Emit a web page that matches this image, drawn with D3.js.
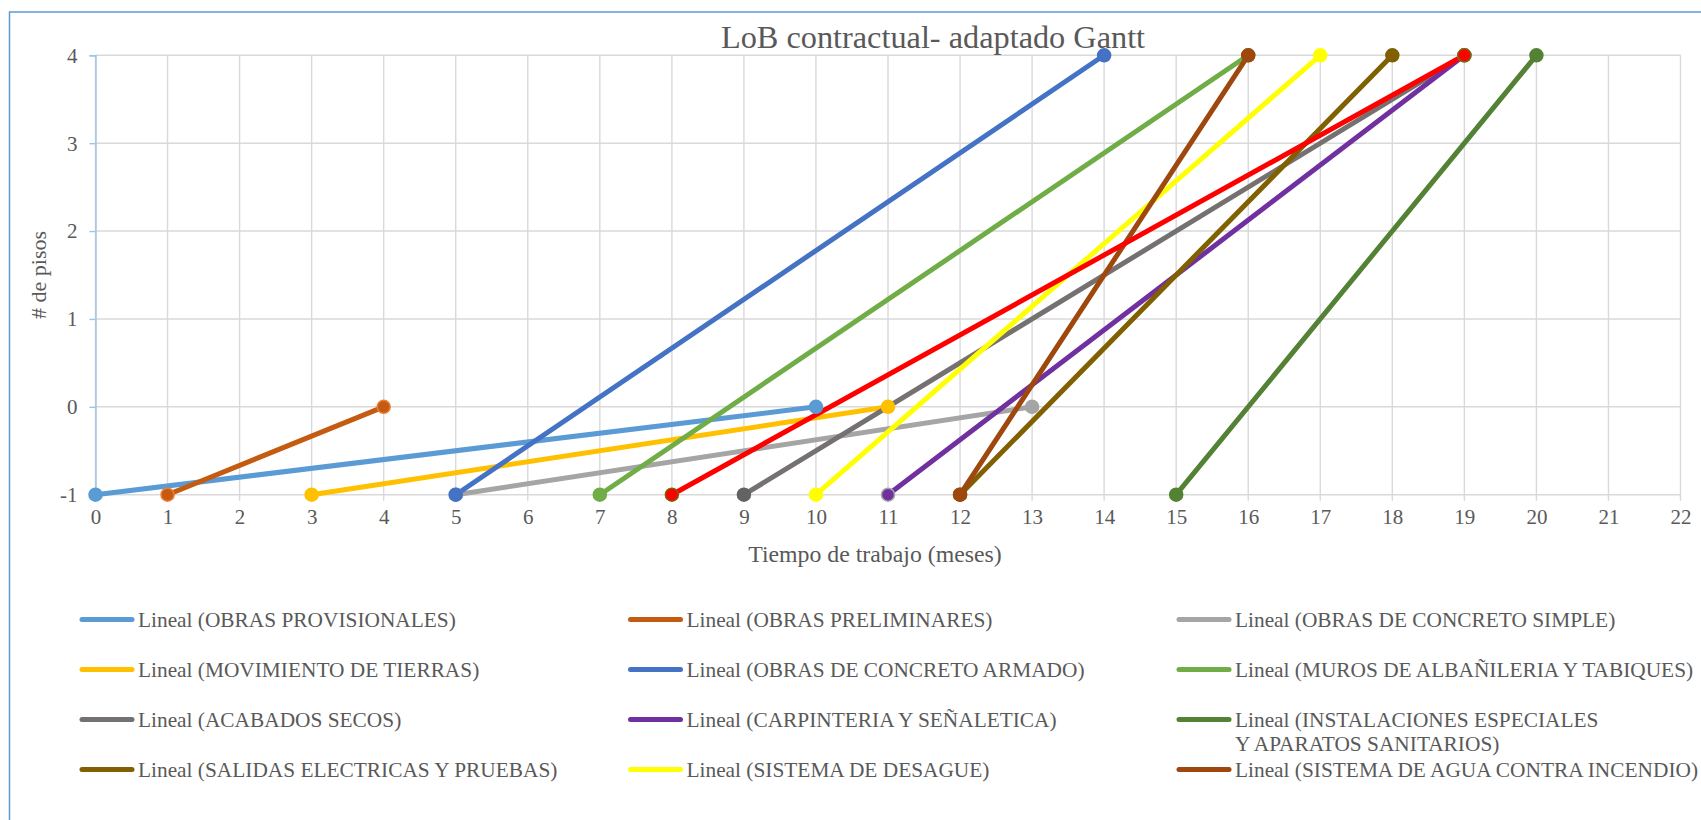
<!DOCTYPE html>
<html><head><meta charset="utf-8">
<script src="https://cdn.jsdelivr.net/npm/d3@7"></script>
<style>
body{margin:0;background:#fff;overflow:hidden;}
svg{display:block;font-family:"Liberation Serif","Times New Roman",serif;}
</style>
</head><body>
<svg id="chart" width="1701" height="820"></svg>
<script>
// ---------------- data ----------------
const seriesNames = [
  "Lineal (OBRAS PROVISIONALES)",
  "Lineal (OBRAS PRELIMINARES)",
  "Lineal (OBRAS DE CONCRETO SIMPLE)",
  "Lineal (MOVIMIENTO DE TIERRAS)",
  "Lineal (OBRAS DE CONCRETO ARMADO)",
  "Lineal (MUROS DE ALBAÑILERIA Y TABIQUES)",
  "Lineal (ACABADOS SECOS)",
  "Lineal (CARPINTERIA Y SEÑALETICA)",
  "Lineal (INSTALACIONES ESPECIALES\nY APARATOS SANITARIOS)",
  "Lineal (SALIDAS ELECTRICAS Y PRUEBAS)",
  "Lineal (SISTEMA DE DESAGUE)",
  "Lineal (SISTEMA DE AGUA CONTRA INCENDIO)",
  ""  // red series, no legend entry
];
const xStart = [0, 1, 5, 3, 5, 7, 9, 11, 15, 12, 10, 12, 8];
const yStart = [-1, -1, -1, -1, -1, -1, -1, -1, -1, -1, -1, -1, -1];
const xEnd   = [10, 4, 13, 11, 14, 16, 19, 19, 20, 18, 17, 16, 19];
const yEnd   = [0, 0, 0, 0, 4, 4, 4, 4, 4, 4, 4, 4, 4];
const xTicks = [0,1,2,3,4,5,6,7,8,9,10,11,12,13,14,15,16,17,18,19,20,21,22];
const yTicks = [-1, 0, 1, 2, 3, 4];
const titleText = "LoB contractual- adaptado Gantt";
const xTitle = "Tiempo de trabajo (meses)";
const yTitle = "# de pisos";

// ---------------- styles ----------------
const lineColors   = ["#5b9bd5","#c55a11","#a5a5a5","#ffc000","#4472c4","#70ad47","#767171","#7030a0","#548235","#806000","#ffff00","#9e480e","#ff0000"];
const markerFill   = ["#5b9bd5","#c55a11","#a5a5a5","#ffc000","#4472c4","#70ad47","#636363","#7030a0","#548235","#806000","#ffff00","#9e480e","#ff0000"];
const markerStroke = ["#5b9bd5","#ed7d31","#a5a5a5","#ffc000","#4472c4","#70ad47","#636363","#a5a5a5","#548235","#806000","#ffff00","#9e480e","#806000"];

const svg = d3.select("#chart");
const textColor = "#595959";
const fmt = d => String(d);

// outer chart border (extends past viewport on right/bottom)
svg.append("rect").attr("x", 9.5).attr("y", 12).attr("width", 1900).attr("height", 1000)
  .attr("fill", "#fff").attr("stroke", "#5b9bd5").attr("stroke-width", 1.5);

const x = d3.scaleLinear().domain([0, 22]).range([95.5, 1680.5]);
const y = d3.scaleLinear().domain([-1, 4]).range([494.7, 55.3]);

// gridlines
const grid = svg.append("g");
grid.selectAll(".vg").data(xTicks).join("line")
  .attr("x1", d => x(d)).attr("x2", d => x(d))
  .attr("y1", y(4)).attr("y2", y(-1) + 6)
  .attr("stroke", "#d9d9d9").attr("stroke-width", 1.4);
grid.selectAll(".hg").data(yTicks).join("line")
  .attr("x1", x(0)).attr("x2", x(22))
  .attr("y1", d => y(d)).attr("y2", d => y(d))
  .attr("stroke", "#d9d9d9").attr("stroke-width", 1.4);

// y axis (light blue line with outside ticks)
const yAxis = svg.append("g").attr("transform", `translate(${x(0)},0)`)
  .call(d3.axisLeft(y).tickValues(yTicks).tickSize(6).tickPadding(12).tickFormat(fmt));
yAxis.select(".domain").attr("stroke", "#9dc3e6").attr("stroke-width", 1.4);
yAxis.selectAll(".tick line").attr("stroke", "#9dc3e6").attr("stroke-width", 1.4);
yAxis.selectAll("text").attr("fill", textColor).attr("font-size", 21)
  .attr("font-family", "'Liberation Serif', serif").attr("dy", "0.33em");

// x axis labels
const xAxis = svg.append("g").attr("transform", `translate(0,${y(-1)})`)
  .call(d3.axisBottom(x).tickValues(xTicks).tickSize(0).tickPadding(14).tickFormat(fmt));
xAxis.select(".domain").remove();
xAxis.selectAll("text").attr("fill", textColor).attr("font-size", 21)
  .attr("font-family", "'Liberation Serif', serif");

// titles
svg.append("text").attr("x", 933).attr("y", 48).attr("text-anchor", "middle")
  .attr("font-size", 32.3).attr("fill", textColor).text(titleText);
svg.append("text").attr("x", 875).attr("y", 562).attr("text-anchor", "middle")
  .attr("font-size", 23.8).attr("fill", textColor).text(xTitle);
svg.append("text").attr("transform", `translate(46,275) rotate(-90)`).attr("text-anchor", "middle")
  .attr("font-size", 22).attr("fill", textColor).text(yTitle);

// series lines
const idx = d3.range(seriesNames.length);
const plot = svg.append("g");
plot.selectAll(".ln").data(idx).join("line")
  .attr("x1", i => x(xStart[i])).attr("y1", i => y(yStart[i]))
  .attr("x2", i => x(xEnd[i])).attr("y2", i => y(yEnd[i]))
  .attr("stroke", i => lineColors[i]).attr("stroke-width", 5).attr("stroke-linecap", "round");

// markers
const pts = [];
idx.forEach(i => {
  pts.push({i, xv: xStart[i], yv: yStart[i]});
  pts.push({i, xv: xEnd[i], yv: yEnd[i]});
});
plot.selectAll(".mk").data(pts).join("circle")
  .attr("cx", d => x(d.xv)).attr("cy", d => y(d.yv)).attr("r", 6.5)
  .attr("fill", d => markerFill[d.i]).attr("stroke", d => markerStroke[d.i]).attr("stroke-width", 1.5);

// legend
const legX0 = 80, colW = 548.5, rowY0 = 619.5, rowH = 50, swLen = 54;
const leg = svg.append("g");
idx.filter(i => seriesNames[i] !== "").forEach((i, k) => {
  const col = k % 3, row = Math.floor(k / 3);
  const lx = legX0 + col * colW, ly = rowY0 + row * rowH;
  leg.append("line").attr("x1", lx + 2).attr("x2", lx + swLen - 2).attr("y1", ly).attr("y2", ly)
    .attr("stroke", lineColors[i]).attr("stroke-width", 5).attr("stroke-linecap", "round");
  const t = leg.append("text").attr("x", lx + 58).attr("y", ly + 7.5)
    .attr("font-size", 21.35).attr("fill", textColor);
  seriesNames[i].split("\n").forEach((s, j) => {
    t.append("tspan").attr("x", lx + 58).attr("dy", j === 0 ? 0 : 24).text(s);
  });
});
</script>
</body></html>
